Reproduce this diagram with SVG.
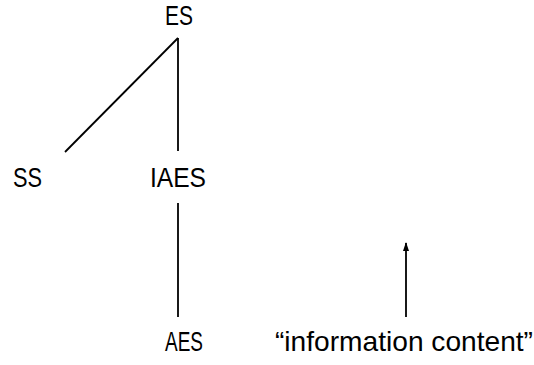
<svg xmlns="http://www.w3.org/2000/svg" width="534" height="365" viewBox="0 0 534 365">
<style>
text{font-family:"Liberation Sans",Arial,sans-serif;font-size:28px;fill:#000}
.c line{stroke:#000;stroke-width:1.8;fill:none}
</style>
<defs>
<marker id="ah" markerWidth="9" markerHeight="6" refX="8" refY="3" orient="auto" markerUnits="userSpaceOnUse" viewBox="0 0 9 6">
<path d="M0,0 L9,3 L0,6 Z" fill="#000"/>
</marker>
</defs>
<rect width="534" height="365" fill="#fff"/>
<g class="c" id="connectors">
<line x1="178" y1="38" x2="65" y2="152"/>
<line x1="178" y1="38" x2="178" y2="151"/>
<line x1="178" y1="203" x2="178" y2="317"/>
<line x1="406" y1="317" x2="406" y2="243" marker-end="url(#ah)"/>
</g>
<g id="ES"><text x="165" y="25" textLength="28" lengthAdjust="spacingAndGlyphs">ES</text></g>
<g id="SS"><text x="13" y="187" textLength="29" lengthAdjust="spacingAndGlyphs">SS</text></g>
<g id="IAES"><text x="150" y="187" textLength="56" lengthAdjust="spacingAndGlyphs">IAES</text></g>
<g id="AES"><text x="165" y="351" textLength="38" lengthAdjust="spacingAndGlyphs">AES</text></g>
<g id="info"><text x="275" y="351" textLength="258" lengthAdjust="spacingAndGlyphs">“information content”</text></g>
</svg>
